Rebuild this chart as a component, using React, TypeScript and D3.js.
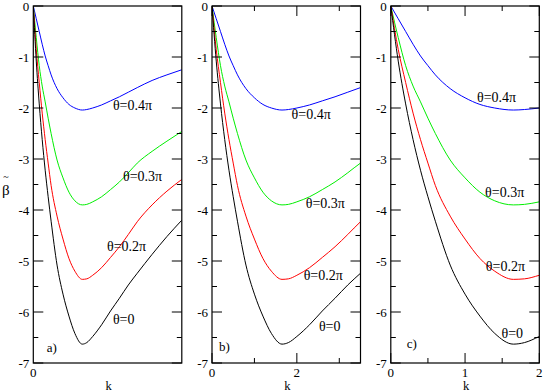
import React from "react";
import * as d3 from "d3";

const K = [0, 0.1, 0.2, 0.3, 0.4, 0.5, 0.6, 0.8, 1.0, 1.2, 1.4, 1.65, 1.8, 2.0, 2.3, 2.6, 2.9, 3.2, 3.5, 4.0, 4.5, 5.0];
const beta04 = [0, -0.25, -0.5, -0.75, -0.98, -1.17, -1.35, -1.62, -1.8, -1.93, -2.0, -2.04, -2.03, -2.0, -1.94, -1.86, -1.78, -1.69, -1.6, -1.46, -1.35, -1.25];
const beta03 = [0, -0.62, -1.17, -1.57, -1.88, -2.2, -2.5, -3.02, -3.37, -3.65, -3.82, -3.9, -3.89, -3.84, -3.74, -3.6, -3.45, -3.27, -3.08, -2.85, -2.65, -2.46];
const beta02 = [0, -0.85, -1.5, -2.1, -2.62, -3.08, -3.52, -4.12, -4.57, -4.95, -5.2, -5.36, -5.35, -5.28, -5.13, -4.93, -4.72, -4.48, -4.23, -3.9, -3.63, -3.4];
const beta00 = [0, -1.08, -1.92, -2.62, -3.22, -3.74, -4.22, -5.08, -5.65, -6.08, -6.42, -6.63, -6.6, -6.48, -6.25, -5.98, -5.73, -5.47, -5.24, -4.87, -4.52, -4.2];

const seriesNames = ["θ=0.4π", "θ=0.3π", "θ=0.2π", "θ=0"];
const seriesColors = ["#0000ff", "#00ee00", "#ff0000", "#000000"];
const seriesValues = [beta04, beta03, beta02, beta00];

const yTicks = [0, -1, -2, -3, -4, -5, -6, -7];
const panelNames = ["a)", "b)", "c)"];
const panelDomains = [5, 3.5, 2];
const panelMajor = [null, 2, 1];
const panelLeft = [33.3, 212, 390.8];
// label anchor positions per panel [k, beta] in data coords, order matches seriesNames
const labelPos = [
  [[2.68, -2.04], [3.02, -3.43], [2.48, -4.8], [2.68, -6.24]],
  [[1.875, -2.22], [2.21, -3.96], [2.16, -5.37], [2.52, -6.37]],
  [[1.16, -1.88], [1.27, -3.75], [1.28, -5.2], [1.49, -6.51]],
];
const panelTagPos = [[0.45, -6.78], [0.165, -6.76], [0.215, -6.71]];

const W = 148.5;
const TOP = 6;
const BOTTOM = 363;
const FONT = "Liberation Serif, Times New Roman, Times, DejaVu Serif, serif";

function Panel({ idx }: { idx: number }) {
  const left = panelLeft[idx];
  const x = d3.scaleLinear().domain([0, panelDomains[idx]]).range([left, left + W]);
  const y = d3.scaleLinear().domain([0, -7]).range([TOP, BOTTOM]);
  const line = d3
    .line<number>()
    .x((_, i) => x(K[i]))
    .y((d) => y(d))
    .curve(d3.curveMonotoneX);
  const clipId = `clip-${idx}`;
  const major = panelMajor[idx];
  const xTicksMajor: number[] = [];
  const xTicksMinor: number[] = [];
  if (major !== null) {
    for (let v = 0; v <= panelDomains[idx] + 1e-9; v += major) xTicksMajor.push(v);
    for (let v = major / 2; v <= panelDomains[idx] + 1e-9; v += major) xTicksMinor.push(v);
  }
  const yMinor = d3.range(0, 7).map((i) => -i - 0.5);
  return (
    <g>
      <defs>
        <clipPath id={clipId}>
          <rect x={left} y={TOP} width={W} height={BOTTOM - TOP} />
        </clipPath>
      </defs>
      <g clipPath={`url(#${clipId})`}>
        {seriesValues.map((vals, si) => (
          <path key={si} d={line(vals) || ""} fill="none" stroke={seriesColors[si]} strokeWidth={1} />
        ))}
      </g>
      {yTicks.map((t) => (
        <g key={t}>
          <line x1={left} x2={left + 10} y1={y(t)} y2={y(t)} stroke="#000" />
          <line x1={left + W - 10} x2={left + W} y1={y(t)} y2={y(t)} stroke="#000" />
          <text x={left - 4} y={y(t)} dy="0.35em" textAnchor="end" fontFamily={FONT} fontSize={13}>
            {t === 0 ? "0" : "-" + Math.abs(t)}
          </text>
        </g>
      ))}
      {yMinor.map((t) => (
        <g key={t}>
          <line x1={left} x2={left + 5} y1={y(t)} y2={y(t)} stroke="#000" />
          <line x1={left + W - 5} x2={left + W} y1={y(t)} y2={y(t)} stroke="#000" />
        </g>
      ))}
      {xTicksMajor.map((t) => (
        <g key={t}>
          <line x1={x(t)} x2={x(t)} y1={BOTTOM} y2={BOTTOM - 10} stroke="#000" />
          <line x1={x(t)} x2={x(t)} y1={TOP} y2={TOP + 10} stroke="#000" />
          <text x={x(t)} y={376.5} textAnchor="middle" fontFamily={FONT} fontSize={13}>
            {String(t)}
          </text>
        </g>
      ))}
      {xTicksMinor.map((t) => (
        <g key={t}>
          <line x1={x(t)} x2={x(t)} y1={BOTTOM} y2={BOTTOM - 5} stroke="#000" />
          <line x1={x(t)} x2={x(t)} y1={TOP} y2={TOP + 5} stroke="#000" />
        </g>
      ))}
      {major === null && (
        <text x={x(0)} y={376.5} textAnchor="middle" fontFamily={FONT} fontSize={13}>
          0
        </text>
      )}
      <rect x={left} y={TOP} width={W} height={BOTTOM - TOP} fill="none" stroke="#000" strokeWidth={1.2} />
      <text x={left + W / 2 + 1} y={390} textAnchor="middle" fontFamily={FONT} fontSize={12.5}>
        k
      </text>
      {seriesNames.map((n, si) => (
        <text key={n} x={x(labelPos[idx][si][0])} y={y(labelPos[idx][si][1])} fontFamily={FONT} fontSize={14}>
          {n}
        </text>
      ))}
      <text x={x(panelTagPos[idx][0])} y={y(panelTagPos[idx][1])} fontFamily={FONT} fontSize={13}>
        {panelNames[idx]}
      </text>
    </g>
  );
}

export default function App() {
  return (
    <svg
      width={545}
      height={392}
      style={{ position: "absolute", left: 0, top: 0, background: "#fff" }}
    >
      <rect width={545} height={392} fill="#fff" />
      {[0, 1, 2].map((i) => (
        <Panel key={i} idx={i} />
      ))}
      <text x={2} y={195} fontFamily={FONT} fontSize={15}>
        β
      </text>
      <text x={6} y={180} textAnchor="middle" fontFamily={FONT} fontSize={10}>
        ~
      </text>
    </svg>
  );
}
